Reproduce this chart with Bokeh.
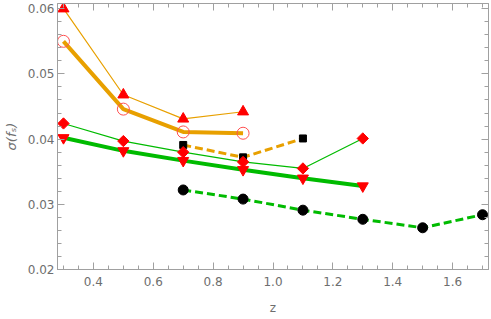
import math
from bokeh.plotting import figure
from bokeh.models import LinearAxis, Range1d, FixedTicker, NumeralTickFormatter
from bokeh.embed import file_html
from bokeh.resources import INLINE

# --- data ---
z_a = [0.3, 0.5, 0.7, 0.9]
tri_up = [0.0600, 0.0468, 0.0431, 0.0442]        # orange thin, red up-triangles
circ_open = [0.0550, 0.0446, 0.0411, 0.0409]     # orange thick, open red circles
z_b = [0.7, 0.9, 1.1]
squares = [0.0391, 0.0372, 0.0401]               # orange dashed, black squares
z_c = [0.3, 0.5, 0.7, 0.9, 1.1, 1.3]
diamonds = [0.0424, 0.0397, 0.0380, 0.0365, 0.0355, 0.0401]   # green thin, red diamonds
tri_down = [0.0402, 0.0382, 0.0367, 0.0353, 0.0340, 0.0328]   # green thick, red down-triangles
z_d = [0.7, 0.9, 1.1, 1.3, 1.5, 1.7]
dots = [0.0322, 0.0308, 0.0291, 0.0277, 0.0264, 0.0284]       # green dashed, black dots

x_ticks = [0.4, 0.6, 0.8, 1.0, 1.2, 1.4, 1.6]
y_ticks = [0.02, 0.03, 0.04, 0.05, 0.06]

ORANGE = "#E8A000"
GREEN = "#00BB00"
RED = "#FF0000"
FRAME = "#A0A0A0"
LABEL = "#6E6E6E"
FONT = "DejaVu Sans"

p = figure(width=491, height=319, output_backend="svg", toolbar_location=None,
           x_range=Range1d(0.28, 1.72), y_range=Range1d(0.02, 0.0608),
           min_border_left=56, min_border_right=3, min_border_top=3, min_border_bottom=50)
p.grid.visible = False
p.outline_line_color = FRAME
p.background_fill_color = "white"

# lines
p.line(z_a, tri_up, line_color=ORANGE, line_width=1.2)
p.line(z_a, circ_open, line_color=ORANGE, line_width=4)
p.line(z_b, squares, line_color=ORANGE, line_width=3, line_dash="8 4")
p.line(z_c, diamonds, line_color=GREEN, line_width=1.2)
p.line(z_c, tri_down, line_color=GREEN, line_width=4)
p.line(z_d, dots, line_color=GREEN, line_width=3, line_dash="8 4")

# markers
p.scatter(z_a, tri_up, marker="triangle", size=11, fill_color=RED, line_color=RED)
p.scatter(z_a, circ_open, marker="circle", size=12, fill_color=None, line_color="#FF5050", line_width=1)
p.scatter(z_b, squares, marker="square", size=7, fill_color="black", line_color="black")
p.scatter(z_c, diamonds, marker="square", size=8, angle=math.pi / 4, fill_color=RED, line_color=RED)
p.scatter(z_c, tri_down, marker="inverted_triangle", size=11, fill_color=RED, line_color=RED)
p.scatter(z_d, dots, marker="circle", size=10, fill_color="black", line_color="black")

def style(ax, labels=True):
    ax.axis_line_color = FRAME
    ax.major_tick_line_color = FRAME
    ax.minor_tick_line_color = FRAME
    ax.major_tick_in = 7
    ax.major_tick_out = 0
    ax.minor_tick_in = 4
    ax.minor_tick_out = 0
    ax.major_label_text_font = FONT
    ax.major_label_text_font_size = "12px"
    ax.major_label_text_color = LABEL if labels else None
    ax.axis_label_text_font = FONT
    ax.axis_label_text_color = LABEL
    ax.axis_label_text_font_size = "12px"
    ax.axis_label_text_font_style = "normal"

xt = FixedTicker(ticks=x_ticks, minor_ticks=[round(0.30 + 0.05 * i, 2) for i in range(29)])
yt = FixedTicker(ticks=y_ticks, minor_ticks=[round(0.020 + 0.002 * i, 3) for i in range(21)])

p.xaxis.ticker = xt
p.yaxis.ticker = yt
style(p.xaxis[0])
style(p.yaxis[0])
p.xaxis.formatter = NumeralTickFormatter(format="0.0")
p.yaxis.formatter = NumeralTickFormatter(format="0.00")
p.xaxis.axis_label = "z"
p.xaxis.major_label_standoff = 7
p.xaxis.axis_label_standoff = 12
p.yaxis.axis_label = "σ(fₛ)"
p.yaxis.axis_label_text_font_style = "italic"
p.yaxis.axis_label_text_font_size = "13px"
p.yaxis.major_label_standoff = 3
p.yaxis.axis_label_standoff = 6

top = LinearAxis(ticker=xt)
style(top, labels=False)
top.major_label_text_font_size = "0px"
p.add_layout(top, "above")
right = LinearAxis(ticker=yt)
style(right, labels=False)
right.major_label_text_font_size = "0px"
p.add_layout(right, "right")

open("out.html", "w").write(file_html(p, INLINE))
